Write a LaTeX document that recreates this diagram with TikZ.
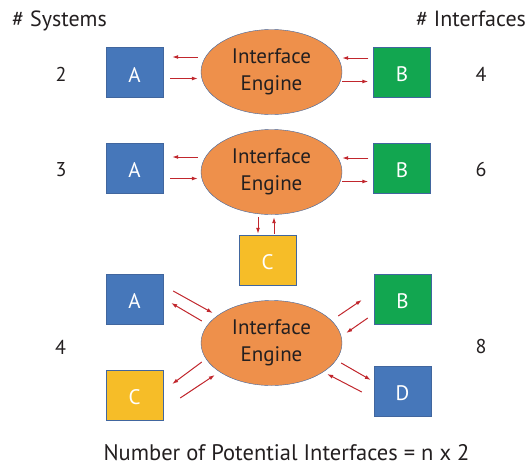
\documentclass[tikz,border=0pt]{standalone}
\usepackage{fontspec}
\setmainfont{PT Sans}
\usepackage{xcolor}
\usepackage{tikz}
\usetikzlibrary{positioning,arrows.meta,shapes.geometric,calc}
\definecolor{boxblue}{HTML}{4677BA}
\definecolor{boxgreen}{HTML}{12A650}
\definecolor{boxyellow}{HTML}{F6BD28}
\definecolor{engorange}{HTML}{EE904B}
\definecolor{edgeblue}{HTML}{41669E}
\definecolor{sigred}{HTML}{C1272D}
\definecolor{txtdark}{HTML}{231F20}

\begin{document}
\begin{tikzpicture}[
    x=1pt, y=-1pt,
    sysbox/.style={draw=edgeblue, minimum width=57pt, minimum height=50pt, inner sep=0pt,
                text=white, text height=19pt, font=\fontsize{21}{24}\selectfont},
    engine/.style={ellipse, draw=edgeblue, fill=engorange, minimum width=141pt, minimum height=85pt,
                inner sep=0pt, align=center, text=txtdark, font=\fontsize{21}{27}\selectfont},
    sig/.style={-{Latex[length=6pt,width=4pt]}, sigred, line width=1pt},
    lbl/.style={anchor=base, inner sep=0pt, text=txtdark, font=\fontsize{22}{26}\selectfont},
    num/.style={anchor=base, inner sep=0pt, text=txtdark, font=\fontsize{20}{24}\selectfont}
]
\useasboundingbox (0,0) rectangle (532,466);
\node[lbl] (hsys) at (59.5,26) {\# Systems};
\node[lbl] (hint) at (471,26) {\# Interfaces};
\node[engine] (eng1) at (271.5,72) {Interface\\Engine};
\node[sysbox, fill=boxblue] (a1) at (134.5,72.5) {A};
\node[sysbox, fill=boxgreen] (b1) at (402,72.5) {B};
\node[num] (n1) at (61,81) {2};
\node[num] (i1) at (481,81) {4};
\node[engine] (eng2) at (271.5,172) {Interface\\Engine};
\node[sysbox, fill=boxblue] (a2) at (134.5,168) {A};
\node[sysbox, fill=boxgreen] (b2) at (402,168) {B};
\node[sysbox, fill=boxyellow] (c2) at (267.5,260) {C};
\node[num] (n2) at (61,176) {3};
\node[num] (i2) at (481,176) {6};
\foreach \e/\a/\b in {eng1/a1/b1, eng2/a2/b2} {
    \draw[sig, shorten <=3pt, shorten >=9pt] ([yshift=15pt]\e.west) -- ([yshift=15pt]\e.west -| \a.east);
    \draw[sig, shorten <=7pt, shorten >=3pt] ([yshift=-6.5pt]\e.west -| \a.east) -- ([yshift=-6.5pt]\e.west);
    \draw[sig, shorten <=5pt] ([yshift=14pt]\e.east -| \b.west) -- ([yshift=14pt]\e.east);
    \draw[sig, shorten >=5pt] ([yshift=-9.5pt]\e.east) -- ([yshift=-9.5pt]\e.east -| \b.west);
}
\draw[sig, shorten <=2.5pt, shorten >=1pt] ([xshift=-13.5pt]eng2.south) -- ([xshift=-13.5pt]eng2.south |- c2.north);
\draw[sig, shorten <=1pt, shorten >=2.5pt] ([xshift=2.5pt]eng2.south |- c2.north) -- ([xshift=2.5pt]eng2.south);
\node[engine] (eng3) at (271.5,343) {Interface\\Engine};
\node[sysbox, fill=boxblue] (a3) at (134.5,299) {A};
\node[sysbox, fill=boxyellow] (c3) at (134.5,395) {C};
\node[sysbox, fill=boxgreen] (b3) at (402.5,299) {B};
\node[sysbox, fill=boxblue] (d3) at (402.5,391.5) {D};
\node[num] (n3) at (60.5,354) {4};
\node[num] (i3) at (481,353) {8};
\draw[sig] ($(a3.east)+(10,-8)$) -- ($(eng3.west)+(12,-30)$);
\draw[sig] ($(eng3.west)+(1,-22)$) -- ($(a3.east)+(8,4)$);
\draw[sig] ($(eng3.west)+(1,19)$) -- ($(c3.east)+(9,-11)$);
\draw[sig] ($(c3.east)+(17,3)$) -- ($(eng3.west)+(14,32)$);
\draw[sig] ($(eng3.east)+(-4,-27)$) -- ($(b3.west)+(-12,1)$);
\draw[sig] ($(b3.west)+(-6,19)$) -- ($(eng3.east)+(4,-10)$);
\draw[sig] ($(eng3.east)+(-1,20)$) -- ($(d3.west)+(-3,-11.5)$);
\draw[sig] ($(d3.west)+(-12,0.5)$) -- ($(eng3.east)+(-15,31)$);
\node[lbl, font=\fontsize{22.5}{26}\selectfont] (formula) at (286.5,460) {Number of Potential Interfaces = n x 2};
\end{tikzpicture}
\end{document}
